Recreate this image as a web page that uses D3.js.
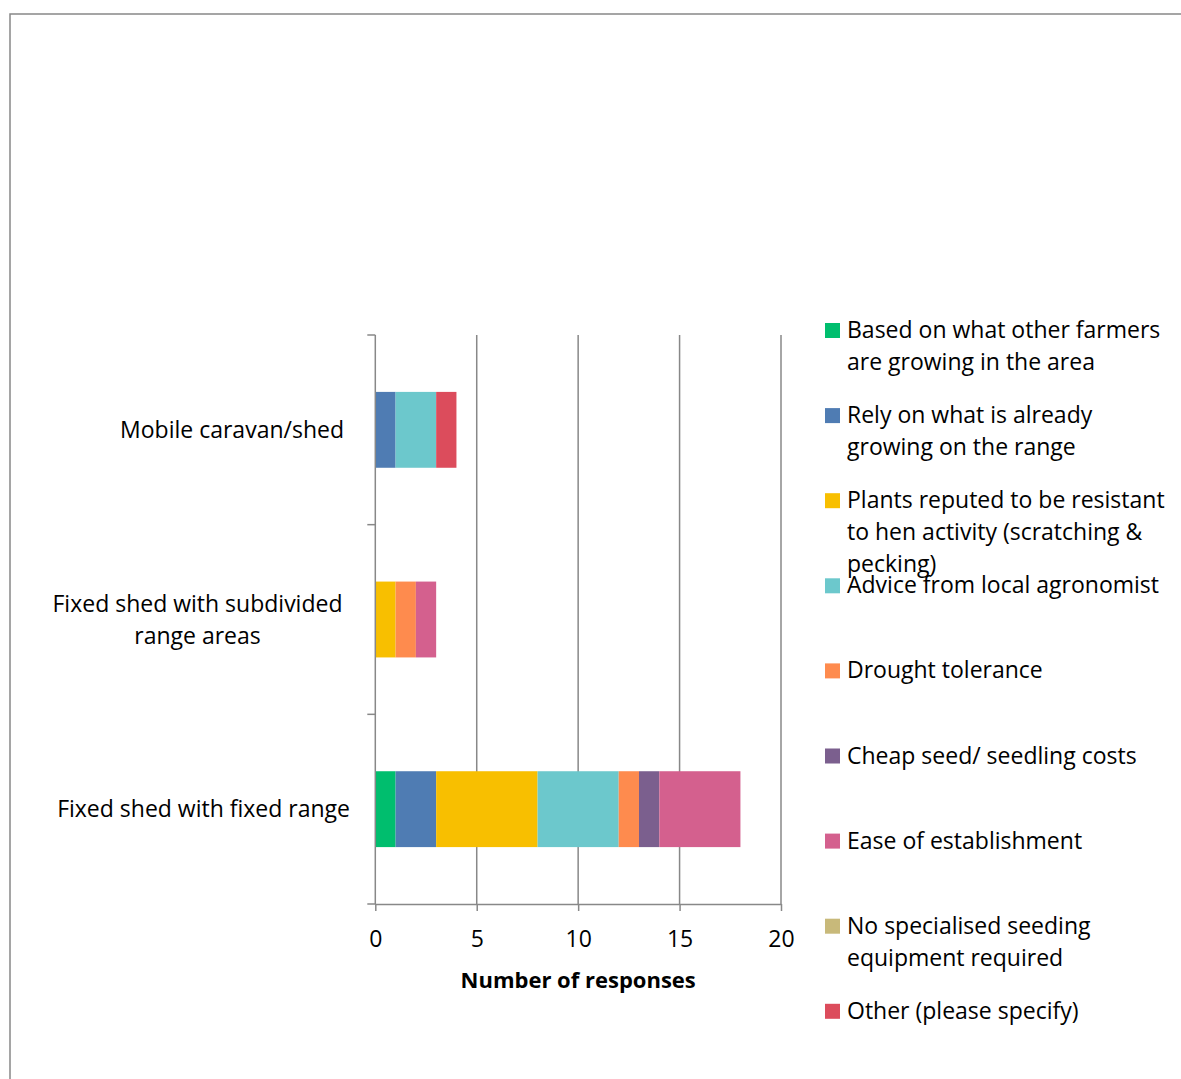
<!DOCTYPE html>
<html>
<head>
<meta charset="utf-8">
<script src="https://cdn.jsdelivr.net/npm/d3@7"></script>
<style>
  html, body { margin: 0; padding: 0; background: #fff; }
  svg { display: block; }
  text { font-family: "Open Sans", "Noto Sans", sans-serif; fill: #000; }
</style>
</head>
<body>
<svg id="chart" width="1181" height="1079"></svg>
<script>
// Farm types (top to bottom)
const categories = [
  "Mobile caravan/shed",
  "Fixed shed with subdivided\nrange areas",
  "Fixed shed with fixed range"
];

// Reasons for choosing range plants (legend order = stacking order)
const seriesNames = [
  "Based on what other farmers\nare growing in the area",
  "Rely on what is already\ngrowing on the range",
  "Plants reputed to be resistant\nto hen activity (scratching &\npecking)",
  "Advice from local agronomist",
  "Drought tolerance",
  "Cheap seed/ seedling costs",
  "Ease of establishment",
  "No specialised seeding\nequipment required",
  "Other (please specify)"
];

const seriesColors = [
  "#00BE6E", "#4F7CB3", "#F8BF00", "#6CC8CC", "#FE8B4E",
  "#7B5F8E", "#D4608E", "#C8B97A", "#DC4C5C"
];

// Responses per series, one value per farm type (same order as categories)
const basedOnOthers   = [0, 0, 1];
const relyOnExisting  = [1, 0, 2];
const henResistant    = [0, 1, 5];
const agronomist      = [2, 0, 4];
const drought         = [0, 1, 1];
const cheapSeed       = [0, 0, 1];
const easeOfEstablish = [0, 1, 4];
const noEquipment     = [0, 0, 0];
const other           = [1, 0, 0];

const xTicks = [0, 5, 10, 15, 20];
const xTitle = "Number of responses";

const seriesValues = [basedOnOthers, relyOnExisting, henResistant, agronomist,
  drought, cheapSeed, easeOfEstablish, noEquipment, other];

const svg = d3.select("#chart");
const gray = "#888888";
const fontSize = 23;

// outer chart frame
svg.append("rect")
  .attr("x", 10).attr("y", 14)
  .attr("width", 1200).attr("height", 1100)
  .attr("fill", "none").attr("stroke", gray).attr("stroke-width", 1.5);

const plot = { left: 375.3, right: 781, top: 335, bottom: 904 };

const x = d3.scaleLinear().domain([0, 20]).range([plot.left, plot.right]);
const y = d3.scaleBand().domain(categories)
  .range([plot.top, plot.bottom])
  .paddingInner(0.6).paddingOuter(0.3);

// vertical gridlines
svg.append("g").selectAll("line")
  .data(xTicks.filter(t => t > 0))
  .join("line")
  .attr("x1", d => x(d)).attr("x2", d => x(d))
  .attr("y1", plot.top).attr("y2", plot.bottom)
  .attr("stroke", gray).attr("stroke-width", 1.5);

// stacked bars
const rows = categories.map((c, i) => {
  const r = { category: c };
  seriesNames.forEach((s, j) => { r[s] = seriesValues[j][i]; });
  return r;
});
const stacked = d3.stack().keys(seriesNames)(rows);

svg.append("g").selectAll("g")
  .data(stacked)
  .join("g")
  .attr("fill", (d, i) => seriesColors[i])
  .selectAll("rect")
  .data(d => d.filter(p => p[1] > p[0]))
  .join("rect")
  .attr("x", d => x(d[0]))
  .attr("width", d => x(d[1]) - x(d[0]))
  .attr("y", d => y(d.data.category))
  .attr("height", y.bandwidth());

// x axis
const xAxis = d3.axisBottom(x).tickValues(xTicks).tickSize(7).tickSizeOuter(0).tickPadding(20);
const gx = svg.append("g")
  .attr("transform", `translate(0,${plot.bottom})`)
  .call(xAxis);
gx.select(".domain").attr("stroke", gray).attr("stroke-width", 1.5);
gx.selectAll(".tick line").attr("stroke", gray).attr("stroke-width", 1.5);
gx.selectAll(".tick text")
  .attr("font-size", fontSize)
  .style("font-family", "'Open Sans', 'Noto Sans', sans-serif")
  .attr("fill", "#000");

svg.append("text")
  .attr("x", (plot.left + plot.right) / 2)
  .attr("y", 980)
  .attr("dy", "0.35em")
  .attr("text-anchor", "middle")
  .attr("font-size", 22)
  .attr("font-weight", "bold")
  .text(xTitle);

// y axis: line with ticks at category boundaries
const yBoundaries = d3.range(categories.length + 1)
  .map(i => plot.top + i * y.step());
svg.append("line")
  .attr("x1", plot.left).attr("x2", plot.left)
  .attr("y1", plot.top).attr("y2", plot.bottom)
  .attr("stroke", gray).attr("stroke-width", 1.5);
svg.append("g").selectAll("line")
  .data(yBoundaries)
  .join("line")
  .attr("x1", plot.left - 8).attr("x2", plot.left)
  .attr("y1", d => d).attr("y2", d => d)
  .attr("stroke", gray).attr("stroke-width", 1.5);

// category labels
const catLabelAnchor = [
  { x: 344, anchor: "end" },
  { x: 197.5, anchor: "middle" },
  { x: 350, anchor: "end" }
];
categories.forEach((c, i) => {
  const lines = c.split("\n");
  const cy = y(c) + y.bandwidth() / 2;
  const lh = 32;
  const t = svg.append("text")
    .attr("font-size", fontSize)
    .attr("text-anchor", catLabelAnchor[i].anchor);
  lines.forEach((ln, k) => {
    t.append("tspan")
      .attr("x", catLabelAnchor[i].x)
      .attr("y", cy + (k - (lines.length - 1) / 2) * lh)
      .attr("dy", "0.35em")
      .text(ln);
  });
});

// legend
const legend = svg.append("g");
const legendTop = 330, legendStep = 85.1, legendLine = 32;
seriesNames.forEach((s, i) => {
  const cy = legendTop + i * legendStep;
  legend.append("rect")
    .attr("x", 825).attr("y", cy - 7)
    .attr("width", 15).attr("height", 15)
    .attr("fill", seriesColors[i]);
  const t = legend.append("text").attr("font-size", fontSize);
  s.split("\n").forEach((ln, k) => {
    t.append("tspan")
      .attr("x", 847)
      .attr("y", cy + k * legendLine)
      .attr("dy", "0.35em")
      .text(ln);
  });
});
</script>
</body>
</html>
